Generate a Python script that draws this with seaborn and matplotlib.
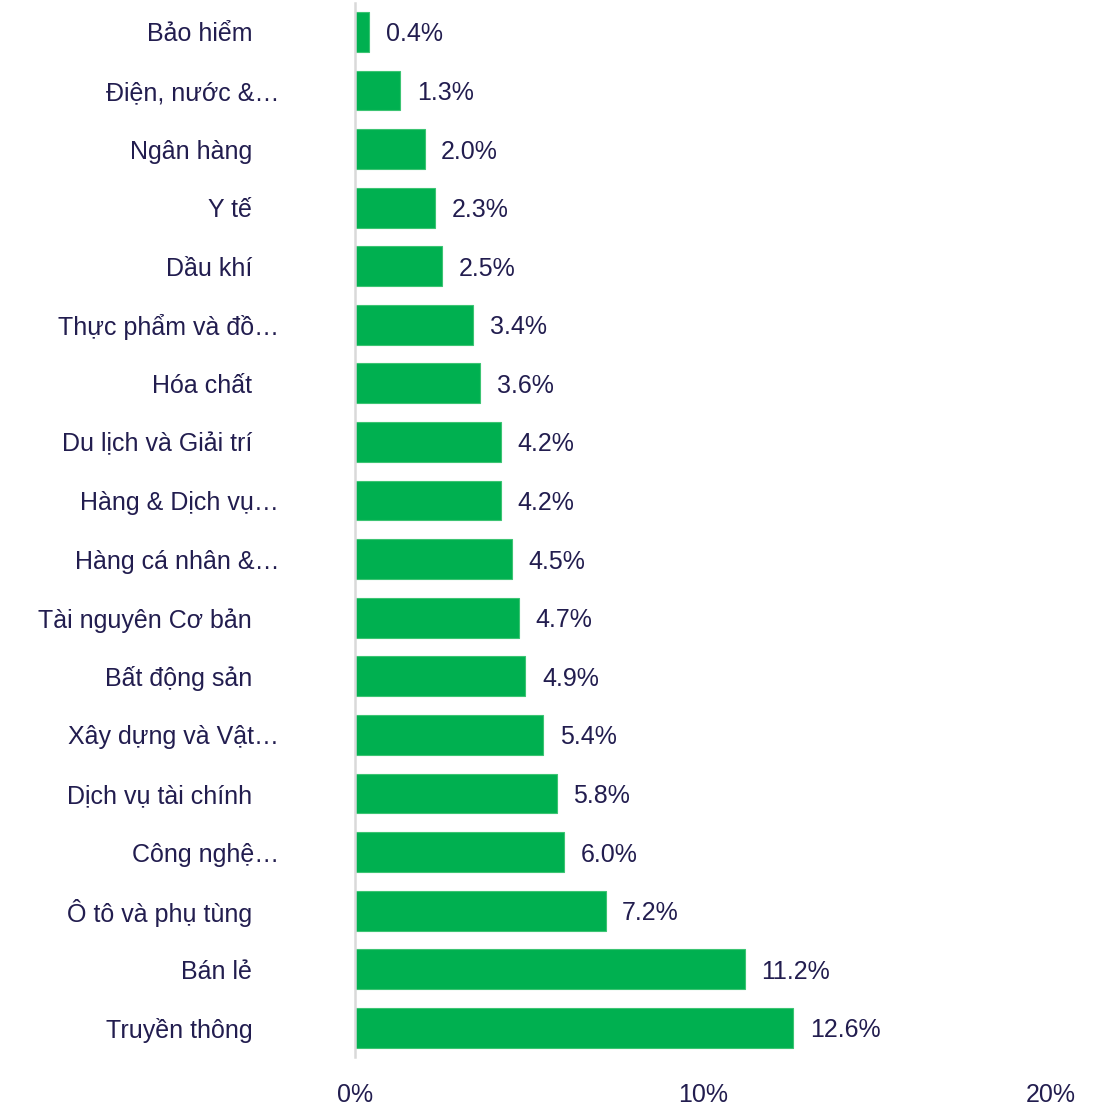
import matplotlib.pyplot as plt
import matplotlib.transforms as mtransforms
import pandas as pd
import seaborn as sns

# Data
sectors = ["Bảo hiểm", "Điện, nước &…", "Ngân hàng", "Y tế", "Dầu khí",
           "Thực phẩm và đồ…", "Hóa chất", "Du lịch và Giải trí", "Hàng & Dịch vụ…",
           "Hàng cá nhân &…", "Tài nguyên Cơ bản", "Bất động sản", "Xây dựng và Vật…",
           "Dịch vụ tài chính", "Công nghệ…", "Ô tô và phụ tùng", "Bán lẻ", "Truyền thông"]
shares = [0.4, 1.3, 2.0, 2.3, 2.5, 3.4, 3.6, 4.2, 4.2, 4.5, 4.7, 4.9, 5.4, 5.8, 6.0, 7.2, 11.2, 12.6]
x_ticks = [0, 10, 20]
x_tick_labels = ["0%", "10%", "20%"]

df = pd.DataFrame({"sector": sectors, "share": shares})

sns.set_theme(style="white")
plt.rcParams['font.family'] = ['Liberation Sans', 'DejaVu Sans']
text_color = "#221D4F"

fig = plt.figure(figsize=(11.01, 11.08), dpi=100)
ax = fig.add_axes([0.3224, 0.046, 0.6322, 0.9516])

sns.barplot(data=df, x="share", y="sector", orient="h", color="#00B050",
            saturation=1, width=0.68, edgecolor="#3CC473", linewidth=0.8, ax=ax)

for i, v in enumerate(shares):
    ax.annotate(f"{v:.1f}%", xy=(v, i), xytext=(12, 0), textcoords="offset points",
                va="center_baseline", ha="left", fontsize=18, color=text_color)

ax.set_xlim(0, 20)
ax.set_ylim(17.5, -0.5)
ax.set_xticks(x_ticks)
ax.set_xticklabels(x_tick_labels)
ax.set_xlabel("")
ax.set_ylabel("")
ax.tick_params(axis="x", length=0, pad=19, labelsize=18, labelcolor=text_color)
ax.tick_params(axis="y", length=0, pad=74, labelsize=18, labelcolor=text_color)

# truncated labels sit a bit further right, as in the original
shift = mtransforms.ScaledTranslation(0.27, 0, fig.dpi_scale_trans)
for lab in ax.get_yticklabels():
    if lab.get_text().endswith("…"):
        lab.set_transform(lab.get_transform() + shift)

for side in ["top", "right", "bottom"]:
    ax.spines[side].set_visible(False)
ax.spines["left"].set_color("#D9D9D9")
ax.spines["left"].set_linewidth(1.8)

fig.savefig("out.png", dpi=100)
